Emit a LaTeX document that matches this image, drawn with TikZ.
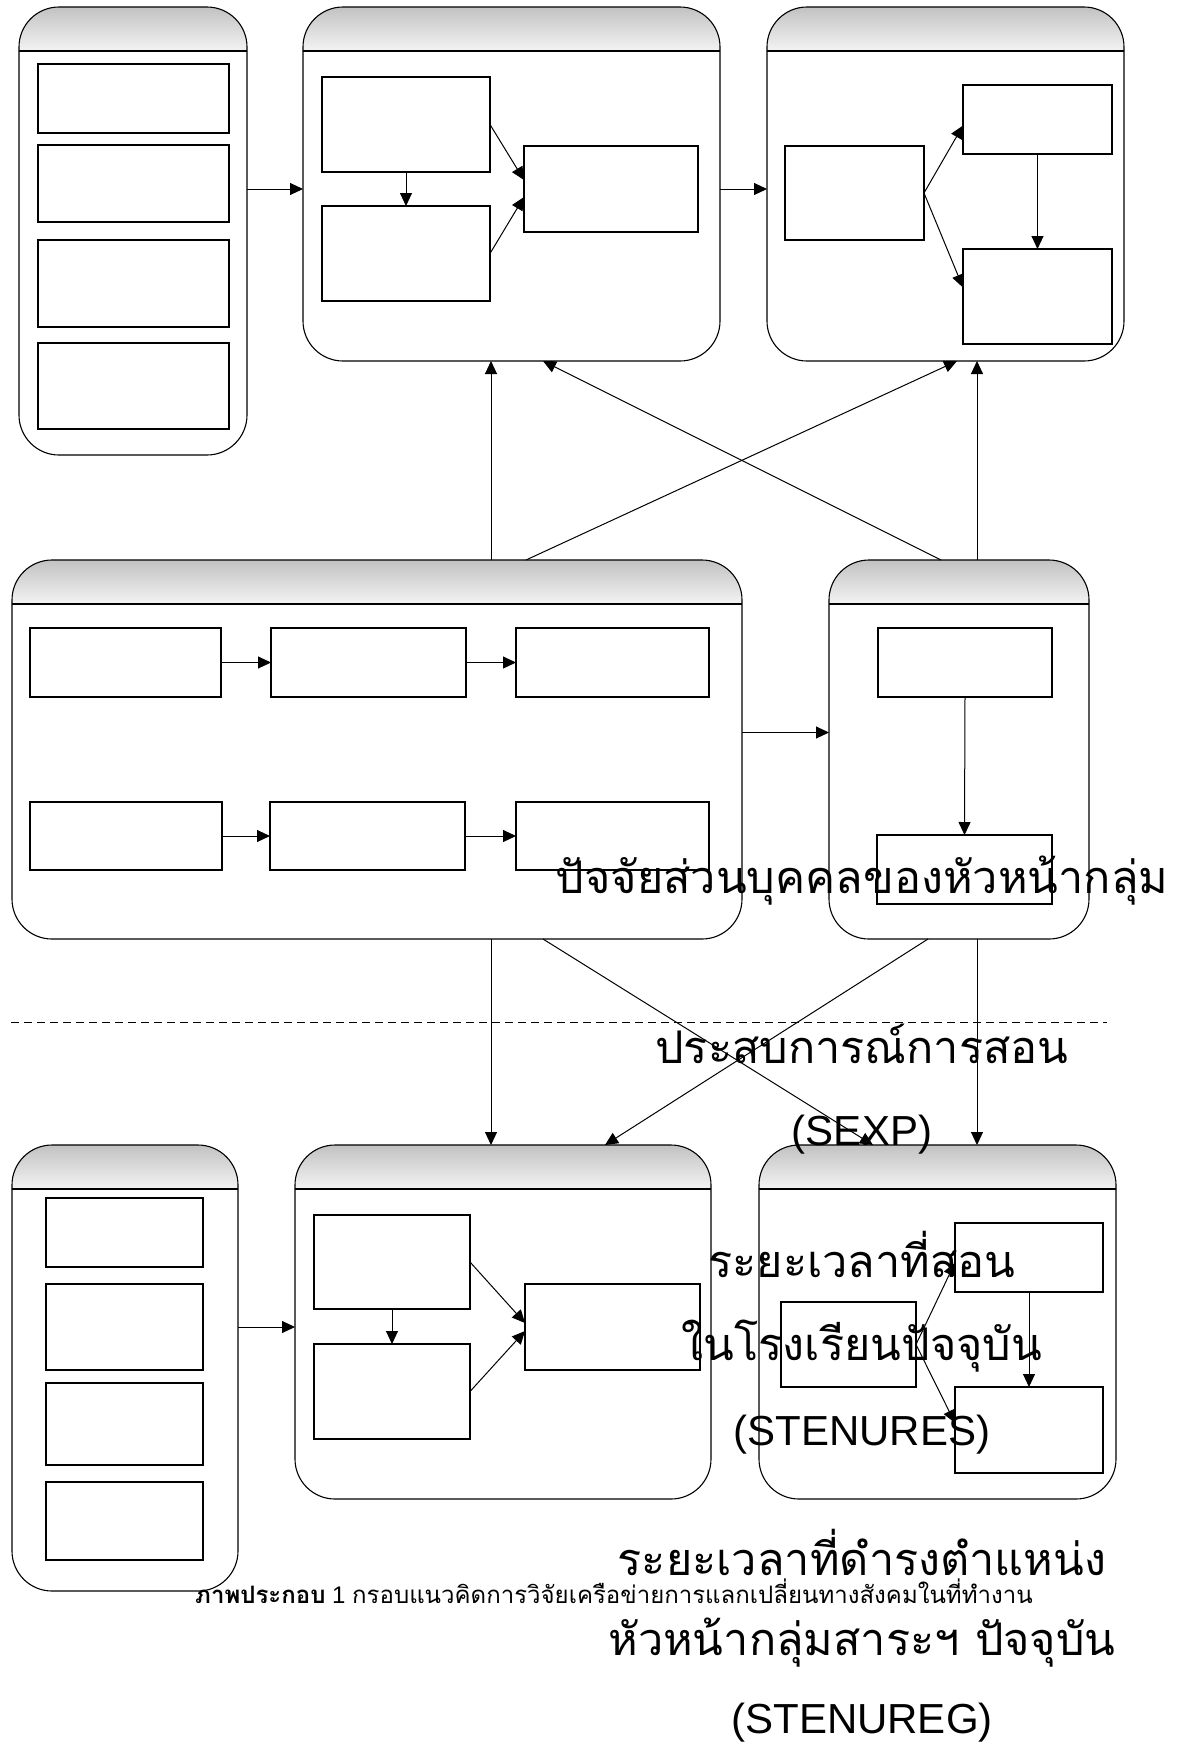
\documentclass[tikz,border=0pt]{standalone}
\usepackage{fontspec}
\setmainfont{Liberation Sans}
\newfontfamily\thaifont[Script=Thai]{Loma}
\usetikzlibrary{arrows.meta,fit,calc}
\begin{document}
\begin{tikzpicture}[x=1pt,y=-1pt,
  container/.style={draw, line width=1.1pt, rounded corners=40pt, inner sep=0pt, outer sep=0pt,
    path picture={
      \foreach \i in {0,...,43}{
        \pgfmathsetmacro\hc{24-19*\i/43}
        \fill[sharp corners, black!\hc]
          ([yshift={-\i*1pt}]path picture bounding box.north west) rectangle
          ([yshift={-(\i+1.3)*1pt}]path picture bounding box.north east);
      }
      \draw[sharp corners, line width=1.1pt]
        ([yshift=-44pt]path picture bounding box.north west) -- ([yshift=-44pt]path picture bounding box.north east);
    }},
  ibox/.style={draw, line width=1.1pt, inner sep=0pt, outer sep=0pt, fill=white},
  arr/.style={-{Triangle[length=13pt,width=12pt]}, line width=1pt},
  big/.style={font=\fontsize{42}{50}\selectfont, inner sep=0pt, anchor=base},
  bigthai/.style={font=\fontsize{45}{52}\selectfont\thaifont, inner sep=0pt, anchor=base},
  captext/.style={font=\fontsize{24}{28}\selectfont, inner sep=0pt, anchor=base west},
]
\useasboundingbox (0,0) rectangle (1183,1749);

% ---------- containers ----------
\node[container, fit={(19,7) (247,455)}] (T1) {};
\node[container, fit={(303,7) (720,361)}] (T2) {};
\node[container, fit={(767,7) (1124,361)}] (T3) {};
\node[container, fit={(12,560) (742,939)}] (M1) {};
\node[container, fit={(829,560) (1089,939)}] (M2) {};
\node[container, fit={(12,1145) (238,1591)}] (B1) {};
\node[container, fit={(295,1145) (711,1499)}] (B2) {};
\node[container, fit={(759,1145) (1116,1499)}] (B3) {};

% ---------- inner boxes ----------
\node[ibox, fit={(38,64) (229,133)}] (t1a) {};
\node[ibox, fit={(38,145) (229,222)}] (t1b) {};
\node[ibox, fit={(38,240) (229,327)}] (t1c) {};
\node[ibox, fit={(38,343) (229,429)}] (t1d) {};

\node[ibox, fit={(322,77) (490,172)}] (A) {};
\node[ibox, fit={(322,206) (490,301)}] (Bb) {};
\node[ibox, fit={(524,146) (698,232)}] (C) {};

\node[ibox, fit={(785,146) (924,240)}] (D) {};
\node[ibox, fit={(963,85) (1112,154)}] (E) {};
\node[ibox, fit={(963,249) (1112,344)}] (F) {};

\node[ibox, fit={(30,628) (221,697)}] (m11) {};
\node[ibox, fit={(271,628) (466,697)}] (m12) {};
\node[ibox, fit={(516,628) (709,697)}] (m13) {};
\node[ibox, fit={(30,802) (222,870)}] (m21) {};
\node[ibox, fit={(270,802) (465,870)}] (m22) {};
\node[ibox, fit={(516,802) (709,870)}] (m23) {};

\node[ibox, fit={(878,628) (1052,697)}] (G) {};
\node[ibox, fit={(877,835) (1052,904)}] (H) {};

\node[ibox, fit={(46,1198) (203,1267)}] (b1a) {};
\node[ibox, fit={(46,1284) (203,1370)}] (b1b) {};
\node[ibox, fit={(46,1383) (203,1465)}] (b1c) {};
\node[ibox, fit={(46,1482) (203,1560)}] (b1d) {};

\node[ibox, fit={(314,1215) (470,1309)}] (I) {};
\node[ibox, fit={(314,1344) (470,1439)}] (J) {};
\node[ibox, fit={(525,1284) (700,1370)}] (K) {};

\node[ibox, fit={(781,1302) (916,1387)}] (L) {};
\node[ibox, fit={(955,1223) (1103,1292)}] (Mm) {};
\node[ibox, fit={(955,1387) (1103,1473)}] (N) {};

% ---------- connectors: top row ----------
\draw[arr] (T1.east |- C.west) -- (T2.west |- C.west);
\draw[arr] (T2.east |- C.west) -- (T3.west |- C.west);
\draw[arr] (A.south) -- (Bb.north);
\draw[arr] (A.east) -- ([yshift=9pt]C.west);
\draw[arr] (Bb.east) -- ([yshift=-8pt]C.west);
\draw[arr] (D.east) -- ([yshift=-6pt]E.west);
\draw[arr] (D.east) -- ([yshift=9pt]F.west);
\draw[arr] (E.south) -- (F.north);

% ---------- middle ----------
\draw[arr] (m11.east) -- (m12.west);
\draw[arr] (m12.east) -- (m13.west);
\draw[arr] (m21.east) -- (m22.west);
\draw[arr] (m22.east) -- (m23.west);
\draw[arr] ([yshift=17pt]M1.east) -- ([yshift=17pt]M2.west);
\draw[arr] (G.south) -- (H.north);

% ---------- cross connectors ----------
\draw[arr] ([xshift=479pt]M1.north west) -- ([xshift=188pt]T2.south west);
\draw[arr] ([xshift=514pt]M1.north west) -- ([xshift=190pt]T3.south west);
\draw[arr] ([xshift=112pt]M2.north west) -- ([xshift=240pt]T2.south west);
\draw[arr] ([xshift=148pt]M2.north west) -- ([xshift=210pt]T3.south west);
\draw[arr] ([xshift=479pt]M1.south west) -- ([xshift=196pt]B2.north west);
\draw[arr] ([xshift=531pt]M1.south west) -- ([xshift=114pt]B3.north west);
\draw[arr] ([xshift=99pt]M2.south west) -- ([xshift=310pt]B2.north west);
\draw[arr] ([xshift=148pt]M2.south west) -- ([xshift=218pt]B3.north west);

% ---------- dashed separator ----------
\coordinate (dl) at (11,1022);
\coordinate (dr) at (1107,1022);
\draw[line width=0.9pt, dash pattern=on 8pt off 5pt] (dl) -- (dr);

% ---------- bottom row ----------
\draw[arr] ([yshift=41pt]B1.east) -- (B2.west |- K.west);
\draw[arr] (I.south) -- (J.north);
\draw[arr] (I.east) -- ([yshift=4pt]K.west);
\draw[arr] (J.east) -- ([yshift=-4pt]K.west);
\draw[arr] (L.east) -- ([yshift=-5pt]Mm.west);
\draw[arr] (L.east) -- ([yshift=7pt]N.west);
\draw[arr] (Mm.south) -- (N.north);

% ---------- overflowing large labels ----------
\node[bigthai] (l1) at (862,893) {ปัจจัยส่วนบุคคลของหัวหน้ากลุ่ม};
\node[bigthai] (l2) at (862,1063) {ประสบการณ์การสอน};
\node[big] (l3) at (862,1145) {(SEXP)};
\node[bigthai] (l4) at (862,1277) {ระยะเวลาที่สอน};
\node[bigthai] (l5) at (862,1360) {ในโรงเรียนปัจจุบัน};
\node[big] (l6) at (862,1445) {(STENURES)};
\node[bigthai] (l7) at (862,1575) {ระยะเวลาที่ดำรงตำแหน่ง};
\node[bigthai] (l8) at (862,1655) {หัวหน้ากลุ่มสาระฯ ปัจจุบัน};
\node[big] (l9) at (862,1733) {(STENUREG)};

% ---------- caption ----------
\node[captext] (capt) at (195,1603) {{\thaifont\bfseries ภาพประกอบ} 1 {\thaifont กรอบแนวคิดการวิจัยเครือข่ายการแลกเปลี่ยนทางสังคมในที่ทำงาน}};
\end{tikzpicture}
\end{document}
